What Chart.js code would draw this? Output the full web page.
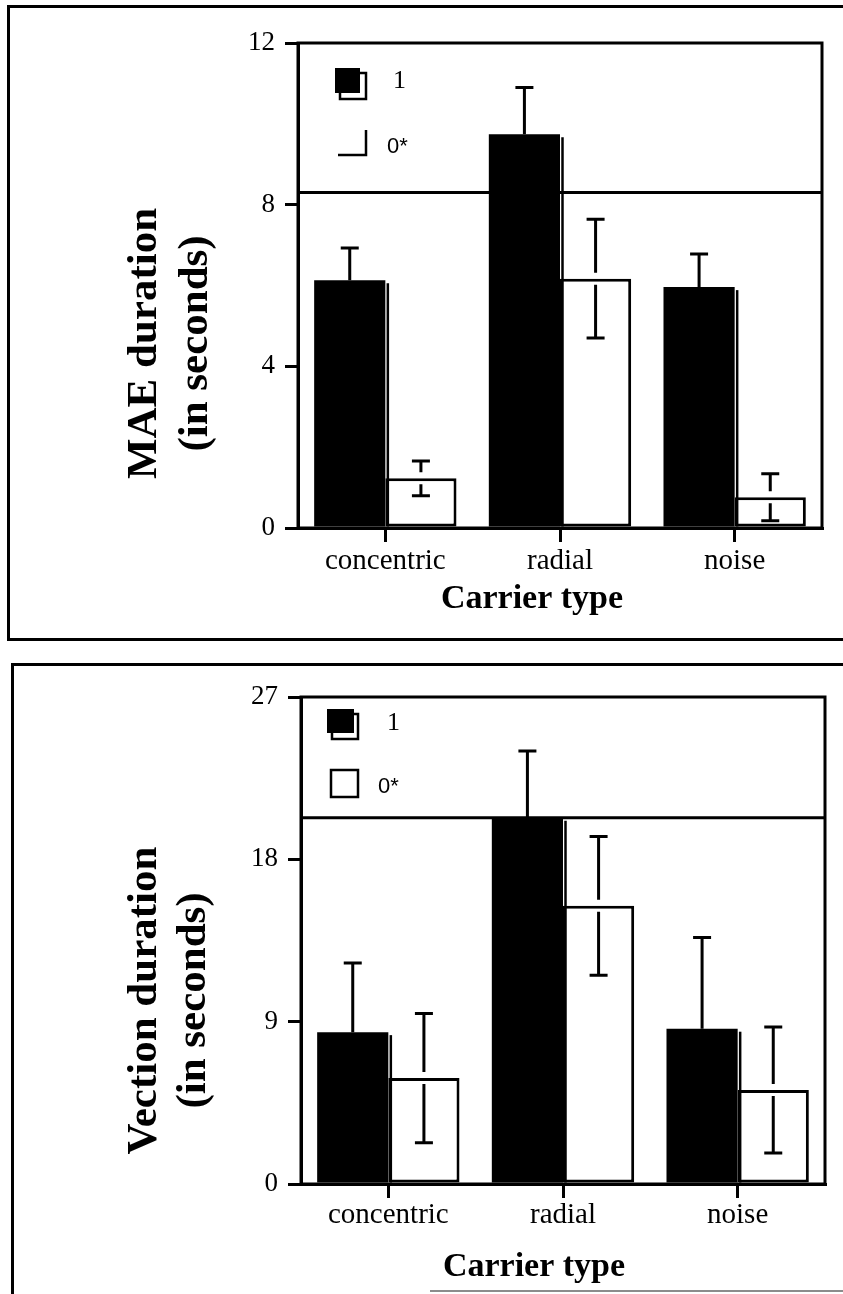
<!DOCTYPE html>
<html>
<head>
<meta charset="utf-8">
<title>MAE and vection duration by carrier type</title>
<script src="https://cdn.jsdelivr.net/npm/chart.js@4.4.1/dist/chart.umd.min.js"></script>
<style>
  html, body { margin: 0; padding: 0; background: #fff; }
  body { width: 843px; height: 1294px; position: relative; overflow: hidden; }
  .frame { position: absolute; box-sizing: border-box; border: 0 solid #000; }
  #frameMae { left: 7px; top: 5px; width: 860px; height: 636px; border-width: 3px 0 3px 3px; }
  #frameVection { left: 11px; top: 663px; width: 860px; height: 700px; border-width: 3px 0 0 3px; }
  #frameVectionEdge { position: absolute; left: 430px; top: 1290px; width: 420px; height: 2px; background: #8c8c8c; }
  canvas { position: absolute; left: 0; }
  #maeChart { top: 0; }
  #vectionChart { top: 650px; }
</style>
</head>
<body>
<div class="frame" id="frameMae"></div>
<div class="frame" id="frameVection"></div>
<div id="frameVectionEdge"></div>
<canvas id="maeChart" width="843" height="650"></canvas>
<canvas id="vectionChart" width="843" height="644"></canvas>
<script>
// ---- data ----
const carrierTypes = ['concentric', 'radial', 'noise'];
const legendLabels = ['1', '0*'];

// MAE duration (s): condition "1" (filled) and "0*" (open), with error half-widths
const maeMeans1 = [6.13, 9.74, 5.96];
const maeErrors1 = [0.80, 1.16, 0.82];
const maeMeans0 = [1.23, 6.17, 0.76];
const maeErrors0 = [0.43, 1.47, 0.58];
const maeTicks = [0, 4, 8, 12];
const maeRuleValue = 8.3;

// Vection duration (s)
const vectionMeans1 = [8.42, 20.3, 8.61];
const vectionErrors1 = [3.83, 3.70, 5.05];
const vectionMeans0 = [5.87, 15.42, 5.21];
const vectionErrors0 = [3.58, 3.84, 3.49];
const vectionTicks = [0, 9, 18, 27];
const vectionRuleValue = 20.3;

// ---- drawing helpers ----
const SERIF = '"Liberation Serif", "Times New Roman", serif';
const SANS = '"Liberation Sans", Arial, sans-serif';

const panelDecor = {
  id: 'panelDecor',
  beforeDatasetsDraw(chart, args, opts) {
    const { ctx, chartArea: ca, scales: { y } } = chart;
    const yr = y.getPixelForValue(opts.rule);
    ctx.save();
    ctx.strokeStyle = '#000';
    ctx.lineWidth = 3;
    ctx.beginPath();
    ctx.moveTo(ca.left, yr);
    ctx.lineTo(ca.right, yr);
    ctx.stroke();
    ctx.restore();
  },
  afterDatasetsDraw(chart, args, opts) {
    const { ctx, chartArea: ca, scales: { y } } = chart;
    ctx.save();
    ctx.strokeStyle = '#000';
    ctx.lineCap = 'butt';

    // offset outline along the right side of the filled bars
    ctx.lineWidth = 2.5;
    chart.getDatasetMeta(0).data.forEach(bar => {
      const p = bar.getProps(['x', 'y', 'base', 'width'], true);
      const xe = p.x + p.width / 2 + 2.5;
      ctx.beginPath();
      ctx.moveTo(xe, p.y + 3);
      ctx.lineTo(xe, p.base);
      ctx.stroke();
    });

    // error bars
    const cap = 9, gap = 6;
    ctx.lineWidth = 3;
    chart.data.datasets.forEach((ds, i) => {
      const meta = chart.getDatasetMeta(i);
      meta.data.forEach((bar, j) => {
        const p = bar.getProps(['x', 'y', 'base', 'width'], true);
        const m = ds.data[j], e = ds.errors[j];
        const yt = y.getPixelForValue(m + e);
        const yb = y.getPixelForValue(m - e);
        const x = p.x;
        ctx.beginPath();
        ctx.moveTo(x - cap, yt); ctx.lineTo(x + cap, yt);
        if (i === 0) {
          ctx.moveTo(x, yt); ctx.lineTo(x, p.y);
        } else {
          ctx.moveTo(x, yt); ctx.lineTo(x, p.y - gap);
          ctx.moveTo(x, p.y + gap); ctx.lineTo(x, yb);
          ctx.moveTo(x - cap, yb); ctx.lineTo(x + cap, yb);
        }
        ctx.stroke();
      });
    });

    // plot frame
    ctx.lineWidth = 3;
    ctx.strokeRect(ca.left, ca.top, ca.right - ca.left, ca.bottom - ca.top);
    ctx.restore();
  },
  afterDraw(chart, args, opts) {
    const { ctx, chartArea: ca } = chart;
    const lg = opts.legend;
    ctx.save();
    ctx.fillStyle = '#000';
    ctx.strokeStyle = '#000';

    // legend: filled key with its offset outline
    const sh = lg.shadow, sq = lg.solid;
    ctx.lineWidth = 2.5;
    ctx.fillStyle = '#fff';
    ctx.fillRect(ca.left + sh[0], ca.top + sh[1], sh[2], sh[3]);
    ctx.strokeRect(ca.left + sh[0], ca.top + sh[1], sh[2], sh[3]);
    ctx.fillStyle = '#000';
    ctx.fillRect(ca.left + sq[0], ca.top + sq[1], sq[2], sq[3]);
    ctx.font = '26px ' + SERIF;
    ctx.textAlign = 'left';
    ctx.textBaseline = 'alphabetic';
    ctx.fillText(chart.data.datasets[0].label, ca.left + lg.label1[0], ca.top + lg.label1[1]);

    // legend: open key
    const bx = ca.left + lg.open[0], by = ca.top + lg.open[1], bw = lg.open[2], bh = lg.open[3];
    ctx.lineWidth = 2.5;
    ctx.beginPath();
    if (lg.openPartial) {
      ctx.moveTo(bx + bw, by);
      ctx.lineTo(bx + bw, by + bh);
      ctx.lineTo(bx - 2, by + bh);
    } else {
      ctx.rect(bx, by, bw, bh);
    }
    ctx.stroke();
    ctx.font = '22px ' + SANS;
    ctx.fillText(chart.data.datasets[1].label, ca.left + lg.label2[0], ca.top + lg.label2[1]);

    // axis titles
    const t = opts.titles;
    const cy = (ca.top + ca.bottom) / 2 + t.yCenterShift;
    ctx.font = 'bold 43px ' + SERIF;
    ctx.textAlign = 'center';
    ctx.textBaseline = 'middle';
    t.yLines.forEach((line, k) => {
      ctx.save();
      ctx.translate(ca.left + t.yLineX[k], cy);
      ctx.rotate(-Math.PI / 2);
      ctx.fillText(line, 0, 0);
      ctx.restore();
    });
    ctx.font = 'bold 34px ' + SERIF;
    ctx.textBaseline = 'alphabetic';
    ctx.fillText(t.x, (ca.left + ca.right) / 2 + t.xShift, ca.bottom + t.xBaseline);
    ctx.restore();
  }
};

function buildPanel(canvasId, cfg) {
  const top = cfg.ticks[cfg.ticks.length - 1];
  return new Chart(document.getElementById(canvasId), {
    type: 'bar',
    data: {
      labels: carrierTypes,
      datasets: [
        { label: legendLabels[0], data: cfg.means1, errors: cfg.errors1,
          backgroundColor: '#000', borderWidth: 0 },
        { label: legendLabels[1], data: cfg.means0, errors: cfg.errors0,
          backgroundColor: '#fff', borderColor: '#000', borderWidth: 3, borderSkipped: false }
      ]
    },
    options: {
      responsive: false,
      animation: false,
      events: [],
      layout: { padding: cfg.padding },
      datasets: { bar: { categoryPercentage: 0.815, barPercentage: 1.0 } },
      plugins: {
        legend: { display: false },
        tooltip: { enabled: false },
        panelDecor: cfg.decor
      },
      scales: {
        x: {
          grid: { offset: false, drawOnChartArea: false, drawTicks: true, tickLength: 14, lineWidth: 3, color: '#000' },
          border: { display: true, width: 3, color: '#000' },
          ticks: { color: '#000', font: { family: SERIF, size: 29 }, padding: cfg.xPad, maxRotation: 0, autoSkip: false },
          afterFit: s => { s.height = 80; }
        },
        y: {
          min: 0,
          max: top,
          grid: { drawOnChartArea: false, drawTicks: true, tickLength: 13, lineWidth: 3, color: '#000' },
          border: { display: true, width: 3, color: '#000' },
          ticks: { color: '#000', font: { family: SERIF, size: 27 }, padding: 10 },
          afterBuildTicks: s => { s.ticks = cfg.ticks.map(v => ({ value: v })); },
          afterFit: s => { s.width = cfg.yWidth; }
        }
      }
    },
    plugins: [panelDecor]
  });
}

function drawAll() {
  buildPanel('maeChart', {
    means1: maeMeans1, errors1: maeErrors1,
    means0: maeMeans0, errors0: maeErrors0,
    ticks: maeTicks,
    yWidth: 298,
    xPad: 2,
    padding: { left: 0, top: 43, right: 21, bottom: 42 },
    decor: {
      rule: maeRuleValue,
      legend: {
        solid: [37, 25, 25, 25], shadow: [42, 30, 26, 26], label1: [95, 45],
        open: [42, 87, 26, 25], openPartial: true, label2: [89, 110]
      },
      titles: {
        yLines: ['MAE duration', '(in seconds)'], yLineX: [-153, -102], yCenterShift: 58,
        x: 'Carrier type', xShift: -28, xBaseline: 80
      }
    }
  });

  buildPanel('vectionChart', {
    means1: vectionMeans1, errors1: vectionErrors1,
    means0: vectionMeans0, errors0: vectionErrors0,
    ticks: vectionTicks,
    yWidth: 301,
    xPad: 0,
    padding: { left: 0, top: 47, right: 18, bottom: 30 },
    decor: {
      rule: vectionRuleValue,
      legend: {
        solid: [26, 12, 27, 24], shadow: [31, 17, 26, 25], label1: [86, 33],
        open: [30, 73, 27, 27], openPartial: false, label2: [77, 96]
      },
      titles: {
        yLines: ['Vection duration', '(in seconds)'], yLineX: [-156, -107], yCenterShift: 60,
        x: 'Carrier type', xShift: -29, xBaseline: 92
      }
    }
  });
}

const fontLoads = [
  '27px "Liberation Serif"', 'bold 43px "Liberation Serif"', '22px "Liberation Sans"'
].map(f => document.fonts.load(f).catch(() => null));
Promise.all(fontLoads).then(drawAll, drawAll);
</script>
</body>
</html>
